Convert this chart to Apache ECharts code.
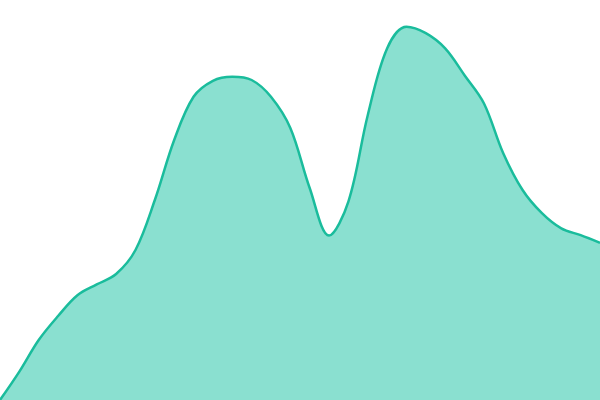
<!DOCTYPE html>
<html>
<head>
<meta charset="utf-8">
<script src="https://cdn.jsdelivr.net/npm/echarts@6/dist/echarts.min.js"></script>
<style>
  html, body { margin: 0; padding: 0; background: #fff; }
  #main { width: 600px; height: 400px; }
</style>
</head>
<body>
<div id="main"></div>
<script>
// 32 evenly spaced samples
var categories = [];
for (var i = 1; i <= 32; i++) categories.push(String(i));
var values = [
    0, 7.1, 15, 21, 26.2, 28.9, 31.5, 37.5,
    50, 65, 75.8, 79.8, 80.8, 80, 75.8, 68,
    53, 41.1, 49.6, 71.2, 87.9, 93.3, 91.7, 87.9,
    81.2, 74.2, 61.7, 52.5, 46.7, 42.9, 41.2, 39.3
];

var myChart = echarts.init(document.getElementById('main'));
var option = {
    animation: false,
    grid: { left: 0, right: 0, top: 0, bottom: 0 },
    xAxis: {
        type: 'category',
        boundaryGap: false,
        data: categories,
        show: false
    },
    yAxis: {
        type: 'value',
        min: 0,
        max: 100,
        show: false
    },
    series: [
        {
            type: 'line',
            data: values,
            smooth: 0.35,
            symbol: 'none',
            lineStyle: { color: '#1abc9c', width: 2.5 },
            areaStyle: { color: '#8ae0d0', opacity: 1 }
        }
    ]
};
myChart.setOption(option);
</script>
</body>
</html>
